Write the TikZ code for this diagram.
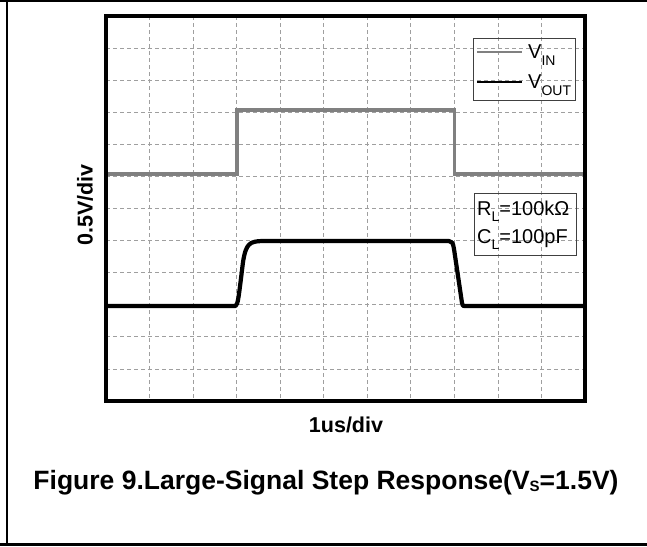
\documentclass[tikz,border=0pt]{standalone}
\usepackage{fontspec}
\setmainfont{Liberation Sans}
\usetikzlibrary{positioning}

\newcommand{\lowsub}[2]{\raisebox{-#2}{\fontsize{14}{14}\selectfont #1}}

\begin{document}
\begin{tikzpicture}[x=1pt,y=-1pt]
\tikzset{
  rule/.style={line width=2.5pt,black},
  frame/.style={line width=4pt,black},
  gridline/.style={gray!75,line width=0.8pt,dash pattern=on 4pt off 3pt},
  vin/.style={line width=3.2pt,color={rgb,255:red,128;green,128;blue,128}},
  vout/.style={line width=4.2pt,black,line join=round},
  legbox/.style={draw=black!75,line width=0.9pt,inner sep=0pt},
  axislabel/.style={font=\fontsize{21.5}{24}\selectfont\bfseries,inner sep=0pt},
  legtext/.style={font=\fontsize{20}{22}\selectfont,inner sep=0pt,anchor=base west}
}
\useasboundingbox (0,0) rectangle (647,546);
% page rules
\draw [rule] (0,1.2) -- (647,1.2);
\draw [line width=2pt] (7,0) -- (7,546);
\draw [rule] (0,544.5) -- (647,544.5);
% grid
\foreach \k in {1,...,10}
  \draw [gridline] ({106+\k*43.545},16) -- ({106+\k*43.545},401);
\foreach \k in {1,...,11}
  \draw [gridline] (106,{16+\k*32.083}) -- (585,{16+\k*32.083});
% traces
\draw [vin] (106,174) -- (237,174) -- (237,110) -- (454.5,110) -- (454.5,174) -- (585,174);
\draw [vout] (106,306) -- (235.5,306) .. controls (238,303) .. (243,262)
  .. controls (246,243) and (250,241.5) .. (262,241) -- (449,241)
  .. controls (452,241) and (453,243) .. (454,249) -- (462,303)
  .. controls (462.5,306) .. (466,306) -- (585,306);
\draw [frame] (106,16) rectangle (585,401);
% legend
\draw [legbox] (473,38) rectangle (575,100);
\draw [line width=2pt,color={rgb,255:red,128;green,128;blue,128}] (477,52) -- (522,52);
\draw [line width=2pt,black] (477,82) -- (522,82);
\node [legtext] (vinlbl) at (528,58) {V\lowsub{IN}{7pt}};
\node [legtext] (voutlbl) at (528,88) {V\lowsub{OUT}{7pt}};
\draw [legbox] (474,193) rectangle (576,255);
\node [legtext] (rl) at (477,215) {R\lowsub{L}{6pt}=100kΩ};
\node [legtext] (cl) at (477,243) {C\lowsub{L}{6pt}=100pF};
% axis labels
\node [axislabel,rotate=90] (ylbl) at (85,205) {0.5V/div};
\node [axislabel] (xlbl) at (346,425) {1us/div};
\node [font=\fontsize{26.5}{28}\selectfont\bfseries,inner sep=0pt,anchor=base] (caption) at (326,489)
  {Figure 9.Large-Signal Step Response(V\raisebox{-2pt}{\fontsize{15}{15}\selectfont S}=1.5V)};
\end{tikzpicture}
\end{document}
